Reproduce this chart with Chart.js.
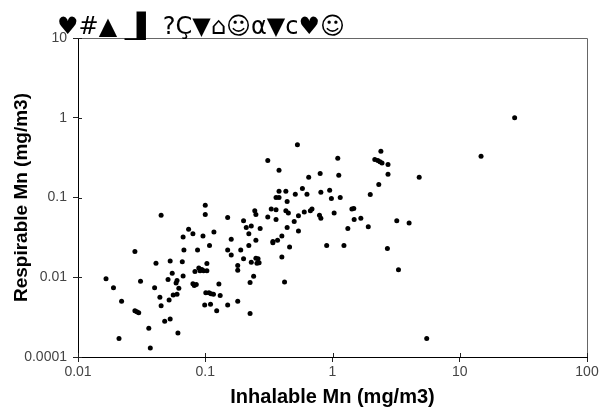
<!DOCTYPE html>
<html><head><meta charset="utf-8">
<script src="https://cdn.jsdelivr.net/npm/chart.js@4/dist/chart.umd.min.js"></script>
<style>html,body{margin:0;padding:0;background:#fff}#wrap{width:601px;height:410px}</style>
</head><body><div id="wrap"><canvas id="c" width="601" height="410"></canvas></div>
<script>
const titleText = "♥#▲ _▌ ?Ç▼⌂☺α▼c♥☺";
const xLabel = "Inhalable Mn (mg/m3)";
const yLabel = "Respirable Mn (mg/m3)";
const xTickValues = [0.01, 0.1, 1, 10, 100];
const xTickLabels = ["0.01", "0.1", "1", "10", "100"];
const yTickValues = [0.001, 0.01, 0.1, 1, 10];
const yTickLabels = ["0.0001", "0.01", "0.1", "1", "10"];

const inhalable = [
  0.53,0.31,0.38,0.38,0.43,0.51,0.36,0.38,0.44,0.33,0.36,0.43,0.45,0.31,0.36,0.54,0.50,0.44,0.54,0.40,
  0.37,0.34,0.34,0.46,0.40,0.42,0.245,0.25,0.15,0.20,0.21,0.23,0.27,0.22,0.25,0.16,0.22,0.15,0.19,0.16,
  0.20,0.25,0.26,0.255,0.265,0.23,0.18,0.18,0.24,0.225,0.225,0.18,0.15,0.10,0.10,0.045,0.074,0.080,0.096,0.117,
  0.067,0.108,0.068,0.087,0.028,0.053,0.041,0.066,0.103,0.089,0.094,0.097,0.103,0.091,0.083,0.055,0.067,0.051,0.060,0.059,
  0.031,0.080,0.085,0.082,0.128,0.0166,0.019,0.040,0.062,0.060,0.056,0.101,0.107,0.111,0.116,0.131,0.044,0.052,0.022,0.045,
  0.099,0.110,0.028,0.029,0.030,0.123,0.036,0.048,0.053,0.061,0.021,0.037,
  27,14.7,2.4,2.15,2.27,2.36,2.45,2.73,2.73,4.8,1.10,0.80,0.65,1.12,2.31,1.98,0.58,0.63,0.81,0.95,
  0.98,1.15,0.60,0.67,0.69,0.79,0.81,1.03,1.42,1.47,1.48,1.67,1.32,1.91,3.2,4.0,0.90,1.23,2.7,3.3,5.5
];
const respirable = [
  0.46,0.29,0.22,0.12,0.12,0.11,0.10,0.10,0.089,0.072,0.070,0.068,0.064,0.057,0.053,0.059,0.050,0.042,0.038,0.033,
  0.029,0.028,0.027,0.024,0.018,0.0087,0.068,0.061,0.056,0.051,0.042,0.044,0.041,0.035,0.029,0.030,0.025,0.022,0.022,0.019,
  0.017,0.0173,0.017,0.015,0.0152,0.0154,0.014,0.0122,0.0103,0.0086,0.0035,0.0050,0.0045,0.080,0.061,0.060,0.040,0.035,0.033,0.037,
  0.032,0.025,0.022,0.022,0.021,0.016,0.015,0.0156,0.0149,0.0131,0.0125,0.0121,0.0121,0.0121,0.0118,0.0112,0.0104,0.0094,0.0091,0.0085,
  0.0089,0.0083,0.0081,0.0079,0.0082,0.0096,0.0074,0.0074,0.0073,0.0061,0.0060,0.0064,0.0064,0.0062,0.0061,0.0059,0.0056,0.0052,0.0050,0.0044,
  0.0045,0.0046,0.0038,0.0037,0.0036,0.0038,0.0023,0.0028,0.0030,0.0020,0.0017,0.0013,
  1.0,0.33,0.38,0.30,0.29,0.28,0.27,0.26,0.195,0.18,0.31,0.20,0.18,0.19,0.146,0.109,0.13,0.11,0.116,0.123,
  0.097,0.10,0.066,0.068,0.072,0.060,0.055,0.064,0.072,0.073,0.053,0.055,0.041,0.043,0.051,0.048,0.025,0.025,0.023,0.0124,0.0017
];

const points = inhalable.map((x, i) => ({ x: x, y: respirable[i] }));

const framePlugin = {
  id: 'frame',
  afterDraw(chart) {
    const { ctx, chartArea: a, scales } = chart;
    ctx.save();
    ctx.lineWidth = 1;
    ctx.strokeStyle = '#666';
    ctx.beginPath();
    ctx.moveTo(a.left, Math.round(a.top) + 0.5);
    ctx.lineTo(Math.round(a.right) + 0.5, Math.round(a.top) + 0.5);
    ctx.lineTo(Math.round(a.right) + 0.5, a.bottom);
    ctx.stroke();
    ctx.strokeStyle = '#222';
    ctx.beginPath();
    xTickValues.forEach(v => {
      const px = Math.round(scales.x.getPixelForValue(v)) + 0.5;
      ctx.moveTo(px, a.bottom); ctx.lineTo(px, a.bottom - 4);
    });
    yTickValues.forEach(v => {
      const py = Math.round(scales.y.getPixelForValue(v)) + 0.5;
      ctx.moveTo(a.left, py); ctx.lineTo(a.left + 4, py);
    });
    ctx.stroke();
    ctx.fillStyle = '#000';
    ctx.font = '24px "DejaVu Sans"';
    ctx.textBaseline = 'alphabetic';
    ctx.textAlign = 'left';
    ctx.fillText(titleText, 57, 34);
    ctx.restore();
  }
};

new Chart(document.getElementById('c'), {
  type: 'scatter',
  data: {
    datasets: [{
      data: points,
      backgroundColor: '#000',
      borderColor: '#000',
      borderWidth: 0,
      pointRadius: 2.5,
      pointHoverRadius: 2.5,
      pointStyle: 'circle'
    }]
  },
  options: {
    responsive: false,
    animation: false,
    devicePixelRatio: 1,
    layout: { padding: { left: 0, right: 14, top: 38, bottom: 0 } },
    plugins: { legend: { display: false }, title: { display: false }, tooltip: { enabled: false } },
    scales: {
      x: {
        type: 'logarithmic',
        min: 0.01, max: 100,
        afterBuildTicks: s => { s.ticks = xTickValues.map(v => ({ value: v })); },
        afterFit: s => { s.height = 53; },
        border: { display: true, color: '#000', width: 1 },
        grid: { display: true, drawOnChartArea: false, drawTicks: true, tickLength: 5, color: '#222' },
        ticks: {
          autoSkip: false, maxRotation: 0, padding: 2, color: '#444',
          font: { family: 'Arial, "Liberation Sans"', size: 14 },
          callback: (v) => { const i = xTickValues.indexOf(v); return i >= 0 ? xTickLabels[i] : ''; }
        },
        title: { display: true, text: xLabel, color: '#000', padding: { top: 0, bottom: 1 },
          font: { family: 'Arial, "Liberation Sans"', size: 20, weight: 'bold' } }
      },
      y: {
        type: 'logarithmic',
        min: 0.001, max: 10,
        afterBuildTicks: s => { s.ticks = yTickValues.map(v => ({ value: v })); },
        afterFit: s => { s.width = 78; },
        border: { display: true, color: '#000', width: 1 },
        grid: { display: true, drawOnChartArea: false, drawTicks: true, tickLength: 5, color: '#222' },
        ticks: {
          autoSkip: false, padding: 6, color: '#444',
          font: { family: 'Arial, "Liberation Sans"', size: 14 },
          callback: (v) => { const i = yTickValues.indexOf(v); return i >= 0 ? yTickLabels[i] : ''; }
        },
        title: { display: true, text: yLabel, color: '#000', padding: { top: 10, bottom: 0 },
          font: { family: 'Arial, "Liberation Sans"', size: 19, weight: 'bold' } }
      }
    }
  },
  plugins: [framePlugin]
});
</script>
</body></html>
